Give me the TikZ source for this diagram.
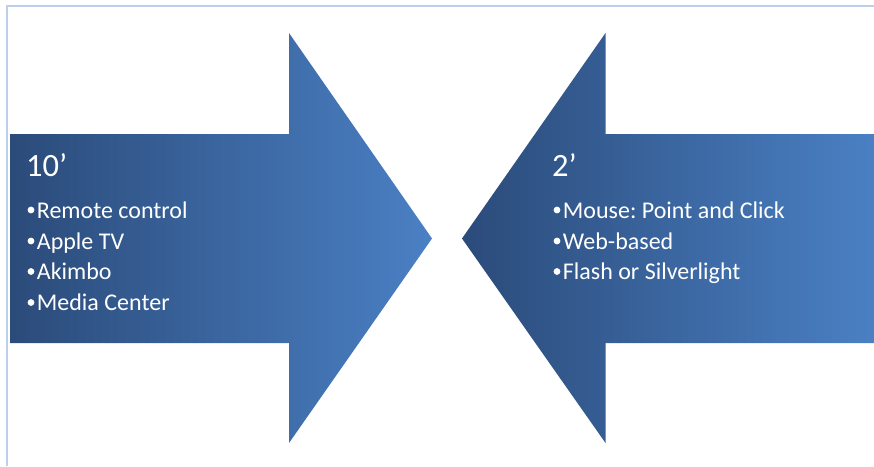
\documentclass[tikz,border=0pt]{standalone}
\usepackage{fontspec}
\setmainfont{Carlito}
% round list bullet followed directly by the item text
\newcommand\itembullet{\makebox[10.2pt][l]{\hspace{0.9pt}\raisebox{4.6pt}{\tikz\fill[white] (0,0) circle (3.4pt);}}}
\definecolor{arrowdark}{HTML}{2B4B7A}
\definecolor{arrowlight}{HTML}{4A80C4}
\definecolor{frameline}{HTML}{BCD0EA}
\begin{document}
\frenchspacing
\begin{tikzpicture}[x=1pt,y=-1pt,
  arrowfill/.style={left color=arrowdark,right color=arrowlight,draw=none},
  headtext/.style={anchor=base west,inner sep=0pt,text=white,font=\fontsize{32.5}{36}\selectfont},
  itemtext/.style={anchor=base west,inner sep=0pt,text=white,font=\fontsize{24}{28}\selectfont}]
  \useasboundingbox (0,0) rectangle (874,466);
  % page frame, top and left edges
  \draw[frameline,line width=2.5pt] (7,466) -- (7,6.2) -- (874,6.2);
  % left arrow pointing right
  \path[arrowfill] (10,134) -- (289,134) -- (289,33) -- (432,238.5)
    -- (289,443) -- (289,343) -- (10,343) -- cycle;
  % right arrow pointing left
  \path[arrowfill] (874,134) -- (605.5,134) -- (605.5,33) -- (462,238.5)
    -- (605.5,443) -- (605.5,343) -- (874,343) -- cycle;
  % left arrow text
  \node[headtext] (lh) at (26,176.5) {10’};
  \node[itemtext] (l1) at (26.5,218) {\itembullet Remote control};
  \node[itemtext] (l2) at (26.5,249) {\itembullet Apple TV};
  \node[itemtext] (l3) at (26.5,279.5) {\itembullet Akimbo};
  \node[itemtext] (l4) at (26.5,310.5) {\itembullet Media Center};
  % right arrow text
  \node[headtext] (rh) at (552,176) {2’};
  \node[itemtext] (r1) at (552.5,218) {\itembullet Mouse: Point and Click};
  \node[itemtext] (r2) at (552.5,249) {\itembullet Web-based};
  \node[itemtext] (r3) at (552.5,279.5) {\itembullet Flash or Silverlight};
\end{tikzpicture}
\end{document}
